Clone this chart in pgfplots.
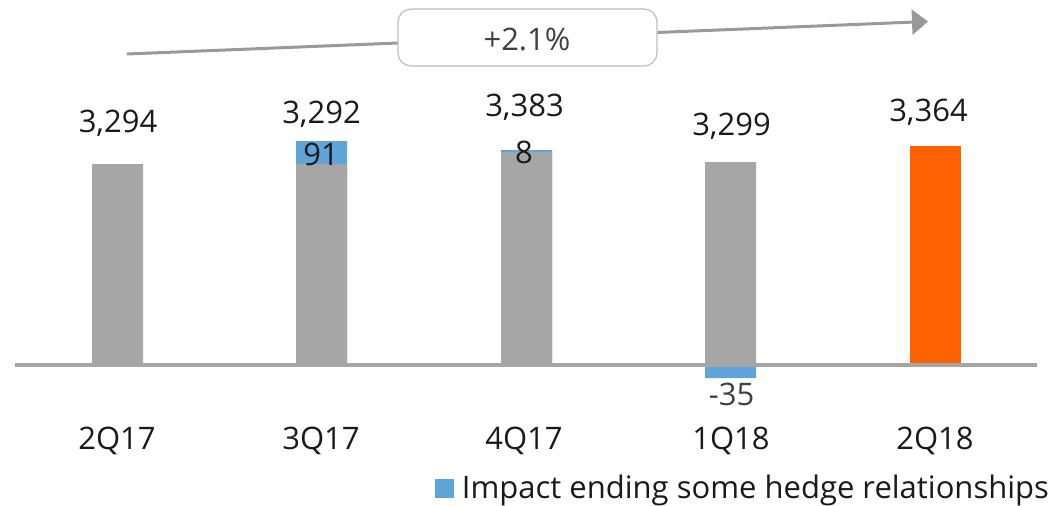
\documentclass[border=0pt]{standalone}
\usepackage{pgfplots}
\pgfplotsset{compat=1.18}
\usepackage{fontspec}
\setmainfont{Open Sans}
\usetikzlibrary{arrows.meta}
\definecolor{barGray}{HTML}{A6A6A6}
\definecolor{impBlue}{HTML}{5FA5DA}
\definecolor{ingOrange}{HTML}{FF6200}
\definecolor{arrGray}{HTML}{999999}
\definecolor{boxGray}{HTML}{BFBFBF}
\definecolor{txt}{HTML}{1A1A1A}
\definecolor{txtGray}{HTML}{404040}
\newcommand\lbl{\fontsize{15.5pt}{18pt}\selectfont}
\begin{document}
\begin{tikzpicture}
\begin{axis}[
  scale only axis, width=525.5pt, height=252.5pt,
  xmin=0, xmax=1051, ymin=-140, ymax=365,
  axis lines=none, clip=false,
  ybar, bar width=25.5pt, bar shift=0pt,
  legend style={at={(axis cs:435,-123.5)}, anchor=west, draw=none, fill=none,
    inner sep=0pt, outer sep=0pt, font=\lbl,
    nodes={inner sep=0pt, text=txt},
    /tikz/every odd column/.style={column sep=4pt}},
  legend image code/.code={\fill[impBlue] (0pt,-4.75pt) rectangle (9.5pt,4.75pt);},
]
\path (rel axis cs:0,0) rectangle (rel axis cs:1,1);
% blue impact (total tops, drawn first so gray covers the lower part)
\addplot[fill=impBlue, draw=none] coordinates {(321.5,224) (526.5,215) (730.5,-13)};
\addlegendentry{Impact ending some hedge relationships}
\addplot[fill=barGray, draw=none, forget plot] coordinates {(117.5,201) (321.5,201) (526.5,213) (730.5,203)};
\addplot[fill=ingOrange, draw=none, forget plot] coordinates {(935,219)};
% baseline
\draw[barGray, line width=2pt] (axis cs:15,0) -- (axis cs:1037,0);
% trend arrow with box
\draw[arrGray, line width=1.5pt, -{Triangle[length=8pt,width=12.5pt]}] (axis cs:127,311) -- (axis cs:928,343.5);
\draw[boxGray, line width=0.6pt, fill=white, rounded corners=6.5pt] (axis cs:398,356) rectangle (axis cs:657,299);
\node[anchor=base, text=txtGray, font=\lbl, inner sep=0pt] at (axis cs:527,315) {+2.1\%};
% value labels
\node[anchor=base, text=txt, font=\lbl, inner sep=0pt] at (axis cs:118,233) {3,294};
\node[anchor=base, text=txt, font=\lbl, inner sep=0pt] at (axis cs:321.5,242) {3,292};
\node[anchor=base, text=txt, font=\lbl, inner sep=0pt] at (axis cs:524.5,249) {3,383};
\node[anchor=base, text=txt, font=\lbl, inner sep=0pt] at (axis cs:731.5,230) {3,299};
\node[anchor=base, text=txt, font=\lbl, inner sep=0pt] at (axis cs:928.5,244) {3,364};
\node[anchor=base, text=txt, font=\lbl, inner sep=0pt] at (axis cs:321,200) {91};
\node[anchor=base, text=txt, font=\lbl, inner sep=0pt] at (axis cs:524,202) {8};
\node[anchor=base, text=txtGray, font=\lbl, inner sep=0pt] at (axis cs:731.5,-40) {-35};
% category labels
\node[anchor=base, text=txt, font=\lbl, inner sep=0pt] at (axis cs:117,-84) {2Q17};
\node[anchor=base, text=txt, font=\lbl, inner sep=0pt] at (axis cs:321,-84) {3Q17};
\node[anchor=base, text=txt, font=\lbl, inner sep=0pt] at (axis cs:524,-84) {4Q17};
\node[anchor=base, text=txt, font=\lbl, inner sep=0pt] at (axis cs:731,-84) {1Q18};
\node[anchor=base, text=txt, font=\lbl, inner sep=0pt] at (axis cs:935,-84) {2Q18};
\end{axis}
\end{tikzpicture}
\end{document}
